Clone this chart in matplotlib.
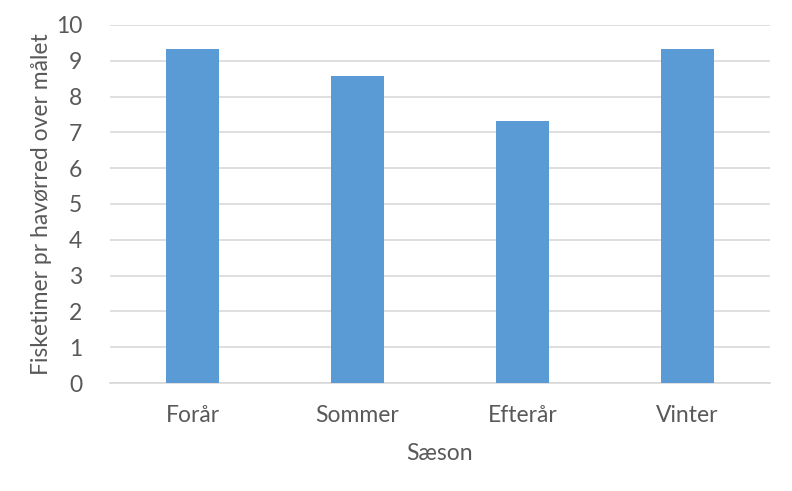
import matplotlib
matplotlib.use("Agg")
import matplotlib.pyplot as plt

categories = ["Forår", "Sommer", "Efterår", "Vinter"]
values = [9.32, 8.58, 7.31, 9.32]
yticks = list(range(0, 11))

plt.rcParams['font.family'] = ['Lato', 'DejaVu Sans']
text_color = "#595959"

fig = plt.figure(figsize=(7.92, 4.91), dpi=100)
ax = fig.add_axes([110/792, 1-383/491, 660/792, (383-25)/491])
x = range(len(categories))
ax.bar(x, values, width=0.32, color="#5b9bd5", zorder=3)
ax.set_xlim(-0.5, len(categories)-0.5)
ax.set_ylim(0, 10)
ax.set_yticks(yticks)
ax.set_xticks(list(x))
ax.set_xticklabels(categories)
ax.grid(axis='y', color="#d9d9d9", linewidth=1.2, zorder=0)
for s in ["top", "right", "left"]:
    ax.spines[s].set_visible(False)
ax.spines["bottom"].set_color("#d9d9d9")
ax.spines["bottom"].set_linewidth(1.2)
ax.tick_params(axis='both', length=0, labelsize=16.5, colors=text_color)
ax.tick_params(axis='y', pad=20)
ax.tick_params(axis='x', pad=16)
ax.set_xlabel("Sæson", fontsize=16.5, color=text_color, labelpad=12)
ax.set_ylabel("Fisketimer pr havørred over målet", fontsize=16.5, color=text_color, labelpad=3)
fig.savefig("out.png", dpi=100)
